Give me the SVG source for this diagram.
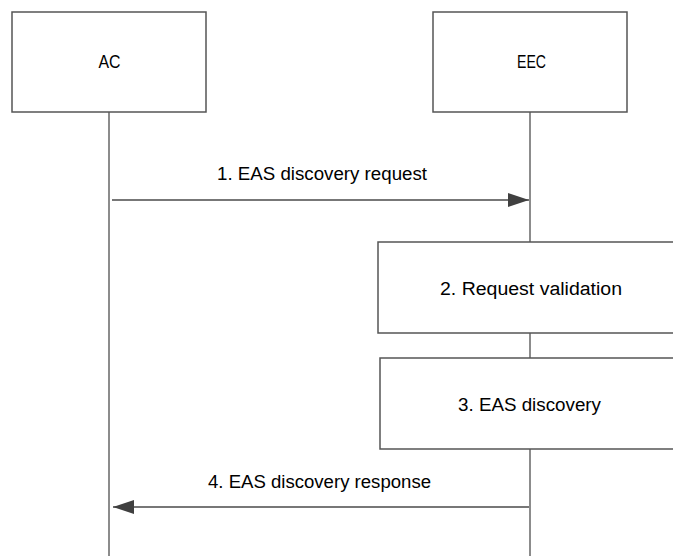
<svg xmlns="http://www.w3.org/2000/svg" width="673" height="556" viewBox="0 0 673 556">
<style>
.box{fill:#fff;stroke:#555;stroke-width:1.5}
.life{stroke:#666;stroke-width:1.5;fill:none}
.msg{stroke:#4a4a4a;stroke-width:1.3;fill:none}
text{font-family:"Liberation Sans",Arial,sans-serif;font-size:18px;fill:#000;text-anchor:middle}
</style>
<defs>
<marker id="ah" markerWidth="21" markerHeight="14" refX="21" refY="7" orient="auto" markerUnits="userSpaceOnUse">
<path d="M0,0 L21,7 L0,14 Z" fill="#404040"/>
</marker>
</defs>
<g id="lifelines">
<line class="life" x1="109" y1="112" x2="109" y2="556"/>
<line class="life" x1="530" y1="112" x2="530" y2="556"/>
</g>
<g id="AC">
<rect class="box" x="12" y="12" width="194" height="100"/>
<text x="109.5" y="68" textLength="22" lengthAdjust="spacingAndGlyphs">AC</text>
</g>
<g id="EEC">
<rect class="box" x="433" y="12" width="194" height="100"/>
<text x="531.5" y="68" textLength="29" lengthAdjust="spacingAndGlyphs">EEC</text>
</g>
<g id="step2">
<rect class="box" x="378" y="242" width="310" height="91"/>
<text x="531" y="295" textLength="182" lengthAdjust="spacingAndGlyphs">2. Request validation</text>
</g>
<g id="step3">
<rect class="box" x="380" y="358" width="310" height="91"/>
<text x="529.5" y="411" textLength="143" lengthAdjust="spacingAndGlyphs">3. EAS discovery</text>
</g>
<g id="connectors">
<line class="msg" x1="112" y1="200" x2="529" y2="200" marker-end="url(#ah)"/>
<text x="322" y="180" textLength="210" lengthAdjust="spacingAndGlyphs">1. EAS discovery request</text>
<line class="msg" x1="529" y1="507" x2="113" y2="507" marker-end="url(#ah)"/>
<text x="319.5" y="488" textLength="223" lengthAdjust="spacingAndGlyphs">4. EAS discovery response</text>
</g>
</svg>
